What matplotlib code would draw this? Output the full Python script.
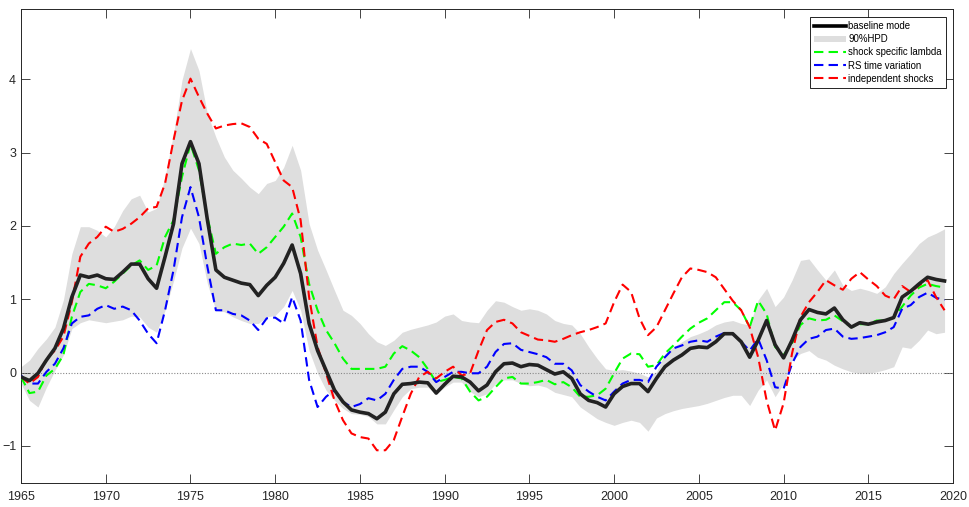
from __future__ import annotations

import matplotlib

matplotlib.use("Agg")
import matplotlib.pyplot as plt
import numpy as np
from matplotlib.lines import Line2D
from matplotlib.patches import Patch


# half-yearly observations, 1965.0 .. 2019.5
YEARS = 1965.0 + 0.5 * np.arange(110)

BASELINE = [
    -0.06, -0.11, -0.01, 0.17, 0.33, 0.60, 1.03, 1.33, 1.30, 1.33,
    1.28, 1.27, 1.37, 1.48, 1.48, 1.28, 1.15, 1.58, 2.03, 2.85,
    3.15, 2.85, 2.08, 1.40, 1.30, 1.26, 1.22, 1.20, 1.05, 1.19,
    1.30, 1.49, 1.74, 1.35, 0.67, 0.30, 0.03, -0.24, -0.40, -0.51,
    -0.54, -0.56, -0.63, -0.54, -0.29, -0.16, -0.15, -0.13, -0.14, -0.28,
    -0.16, -0.05, -0.06, -0.13, -0.25, -0.17, 0.01, 0.12, 0.13, 0.08,
    0.11, 0.10, 0.04, -0.02, 0.01, -0.08, -0.29, -0.38, -0.41, -0.47,
    -0.29, -0.19, -0.15, -0.15, -0.26, -0.08, 0.08, 0.17, 0.24, 0.33,
    0.35, 0.34, 0.42, 0.53, 0.53, 0.42, 0.21, 0.44, 0.71, 0.38,
    0.20, 0.44, 0.72, 0.86, 0.82, 0.80, 0.88, 0.72, 0.62, 0.68,
    0.66, 0.69, 0.71, 0.75, 1.03, 1.11, 1.21, 1.30, 1.27, 1.25,
]

HPD_UPPER = [
    0.08, 0.17, 0.33, 0.46, 0.62, 0.99, 1.62, 1.99, 1.99, 1.94,
    1.85, 1.99, 2.21, 2.37, 2.42, 2.19, 2.24, 2.67, 3.26, 3.99,
    4.42, 4.12, 3.53, 3.21, 2.94, 2.76, 2.65, 2.53, 2.44, 2.58,
    2.62, 2.80, 3.10, 2.76, 2.03, 1.67, 1.40, 1.12, 0.85, 0.78,
    0.67, 0.53, 0.42, 0.37, 0.44, 0.55, 0.59, 0.62, 0.65, 0.69,
    0.77, 0.80, 0.71, 0.69, 0.68, 0.85, 0.98, 0.96, 0.90, 0.85,
    0.87, 0.85, 0.80, 0.71, 0.67, 0.65, 0.53, 0.35, 0.19, 0.05,
    0.03, 0.04, 0.02, -0.01, -0.06, 0.01, 0.26, 0.35, 0.42, 0.49,
    0.53, 0.58, 0.65, 0.69, 0.71, 0.67, 0.65, 0.99, 1.15, 0.90,
    1.03, 1.26, 1.53, 1.55, 1.40, 1.26, 1.40, 1.19, 1.12, 1.15,
    1.12, 1.08, 1.17, 1.35, 1.49, 1.62, 1.76, 1.85, 1.90, 1.96,
]

HPD_LOWER = [
    -0.15, -0.38, -0.47, -0.20, 0.03, 0.24, 0.60, 0.68, 0.72, 0.70,
    0.68, 0.70, 0.72, 0.77, 0.76, 0.62, 0.55, 0.85, 1.25, 1.70,
    1.97, 1.76, 1.21, 0.85, 0.83, 0.76, 0.71, 0.67, 0.67, 0.76,
    0.78, 0.90, 1.12, 0.85, 0.30, -0.01, -0.24, -0.38, -0.49, -0.56,
    -0.57, -0.60, -0.70, -0.70, -0.51, -0.33, -0.22, -0.20, -0.20, -0.29,
    -0.20, -0.13, -0.13, -0.26, -0.33, -0.29, -0.15, -0.10, -0.10, -0.15,
    -0.18, -0.17, -0.20, -0.27, -0.30, -0.33, -0.47, -0.55, -0.63, -0.68,
    -0.72, -0.68, -0.65, -0.68, -0.80, -0.62, -0.56, -0.52, -0.49, -0.47,
    -0.45, -0.42, -0.38, -0.34, -0.31, -0.31, -0.45, -0.24, -0.10, -0.33,
    -0.15, 0.17, 0.26, 0.30, 0.21, 0.17, 0.10, 0.05, 0.01, -0.01,
    -0.01, 0.01, 0.04, 0.08, 0.35, 0.33, 0.44, 0.58, 0.53, 0.55,
]

SHOCK_LAMBDA = [
    -0.06, -0.28, -0.26, -0.04, 0.05, 0.24, 0.76, 1.10, 1.21, 1.19,
    1.15, 1.24, 1.35, 1.46, 1.53, 1.40, 1.46, 1.85, 2.08, 2.67,
    3.12, 2.76, 2.12, 1.62, 1.71, 1.76, 1.74, 1.76, 1.62, 1.71,
    1.85, 1.99, 2.17, 1.85, 1.21, 0.85, 0.58, 0.40, 0.19, 0.05,
    0.05, 0.05, 0.05, 0.08, 0.26, 0.36, 0.30, 0.21, 0.05, -0.13,
    -0.10, -0.06, -0.08, -0.26, -0.38, -0.33, -0.20, -0.08, -0.06, -0.15,
    -0.15, -0.13, -0.10, -0.16, -0.13, -0.20, -0.33, -0.33, -0.31, -0.22,
    -0.01, 0.19, 0.26, 0.25, 0.08, 0.10, 0.26, 0.37, 0.49, 0.60,
    0.68, 0.74, 0.85, 0.96, 0.96, 0.85, 0.62, 0.98, 0.80, 0.35,
    0.24, 0.40, 0.65, 0.74, 0.71, 0.72, 0.78, 0.70, 0.62, 0.66,
    0.66, 0.71, 0.71, 0.75, 0.90, 1.05, 1.16, 1.21, 1.18, 1.16,
]

RS_TIME_VARIATION = [
    -0.04, -0.15, -0.15, 0.01, 0.12, 0.33, 0.67, 0.76, 0.78, 0.87,
    0.92, 0.87, 0.90, 0.85, 0.71, 0.53, 0.40, 0.85, 1.40, 2.12,
    2.53, 2.12, 1.44, 0.85, 0.85, 0.80, 0.78, 0.71, 0.58, 0.74,
    0.75, 0.67, 1.03, 0.71, -0.10, -0.47, -0.33, -0.24, -0.40, -0.47,
    -0.43, -0.35, -0.38, -0.29, -0.10, 0.05, 0.08, 0.08, 0.01, -0.13,
    -0.06, 0.01, 0.01, -0.01, -0.01, 0.08, 0.28, 0.39, 0.40, 0.31,
    0.28, 0.25, 0.21, 0.12, 0.12, 0.03, -0.17, -0.26, -0.33, -0.38,
    -0.26, -0.15, -0.10, -0.10, -0.13, 0.08, 0.21, 0.33, 0.37, 0.42,
    0.44, 0.42, 0.49, 0.54, 0.53, 0.42, 0.30, 0.46, 0.17, -0.20,
    -0.22, 0.12, 0.35, 0.46, 0.49, 0.58, 0.60, 0.49, 0.46, 0.47,
    0.49, 0.51, 0.55, 0.62, 0.87, 0.92, 1.03, 1.09, 1.02, 0.99,
]

INDEPENDENT_SHOCKS = [
    -0.06, -0.15, -0.06, 0.19, 0.30, 0.49, 0.96, 1.58, 1.76, 1.85,
    1.99, 1.92, 1.96, 2.03, 2.12, 2.24, 2.26, 2.58, 3.17, 3.71,
    4.01, 3.76, 3.53, 3.33, 3.37, 3.39, 3.40, 3.35, 3.19, 3.12,
    2.87, 2.62, 2.53, 2.08, 1.03, 0.35, -0.01, -0.38, -0.65, -0.83,
    -0.88, -0.90, -1.06, -1.06, -0.92, -0.60, -0.29, -0.06, 0.01, -0.08,
    0.01, 0.08, -0.04, -0.01, 0.30, 0.58, 0.69, 0.72, 0.67, 0.55,
    0.50, 0.45, 0.44, 0.42, 0.46, 0.51, 0.55, 0.58, 0.62, 0.67,
    0.96, 1.20, 1.10, 0.74, 0.51, 0.62, 0.85, 1.08, 1.30, 1.42,
    1.40, 1.37, 1.30, 1.14, 0.98, 0.85, 0.62, 0.21, -0.38, -0.79,
    -0.42, 0.26, 0.76, 0.96, 1.10, 1.26, 1.19, 1.13, 1.28, 1.37,
    1.27, 1.18, 1.05, 1.00, 1.18, 1.10, 1.19, 1.26, 1.03, 0.85,
]

LABELS = [
    "baseline mode",
    "90%HPD",
    "shock specific lambda",
    "RS time variation",
    "independent shocks",
]

X_TICKS = list(range(1965, 2021, 5))
Y_TICKS = [-1, 0, 1, 2, 3, 4]

SHADE = "#dedede"
AXIS_GREY = "#262626"


def _plot(output_path: str) -> None:
    plt.rcParams["font.family"] = ["Liberation Sans", "DejaVu Sans"]

    fig = plt.figure(figsize=(9.69, 5.07), dpi=100)
    ax = fig.add_axes([0.0217, 0.0483, 0.9618, 0.934])

    ax.fill_between(YEARS, HPD_LOWER, HPD_UPPER, color=SHADE, linewidth=0, zorder=1)
    ax.axhline(0.0, color="#888888", linewidth=0.8, linestyle=(0, (1, 1.5)), zorder=2)

    dash = (0, (4.5, 2.5))
    ax.plot(YEARS, SHOCK_LAMBDA, color="#00ff00", linewidth=1.5, linestyle=dash, zorder=3)
    ax.plot(YEARS, RS_TIME_VARIATION, color="#0000ff", linewidth=1.5, linestyle=dash, zorder=3)
    ax.plot(YEARS, INDEPENDENT_SHOCKS, color="#ff0000", linewidth=1.5, linestyle=dash, zorder=3)
    ax.plot(YEARS, BASELINE, color="#222222", linewidth=2.6,
            solid_joinstyle="round", zorder=4)

    ax.set_xlim(1965, 2020)
    ax.set_ylim(-1.5, 4.96)
    ax.set_xticks(X_TICKS)
    ax.set_yticks(Y_TICKS)
    ax.tick_params(direction="in", length=6.5, width=0.6, colors=AXIS_GREY,
                   labelsize=9, top=True, right=True, labeltop=False, labelright=False)
    ax.tick_params(axis="x", pad=6)
    for spine in ax.spines.values():
        spine.set_color(AXIS_GREY)
        spine.set_linewidth(0.7)

    handles = [
        Line2D([], [], color="#000000", linewidth=2.6),
        Patch(facecolor=SHADE, edgecolor="none"),
        Line2D([], [], color="#00ff00", linewidth=1.5, linestyle=dash),
        Line2D([], [], color="#0000ff", linewidth=1.5, linestyle=dash),
        Line2D([], [], color="#ff0000", linewidth=1.5, linestyle=dash),
    ]
    leg = ax.legend(
        handles, LABELS,
        loc="upper right", bbox_to_anchor=(0.9925, 0.983), borderaxespad=0,
        fontsize=6.9, handlelength=3.3, handletextpad=0.25, labelspacing=0.32,
        borderpad=0.45, fancybox=False, framealpha=1, edgecolor="#000000",
    )
    leg.get_frame().set_linewidth(0.6)

    fig.savefig(output_path, dpi=100)
    plt.close(fig)


def main() -> None:
    _plot("out.png")


if __name__ == "__main__":
    main()
